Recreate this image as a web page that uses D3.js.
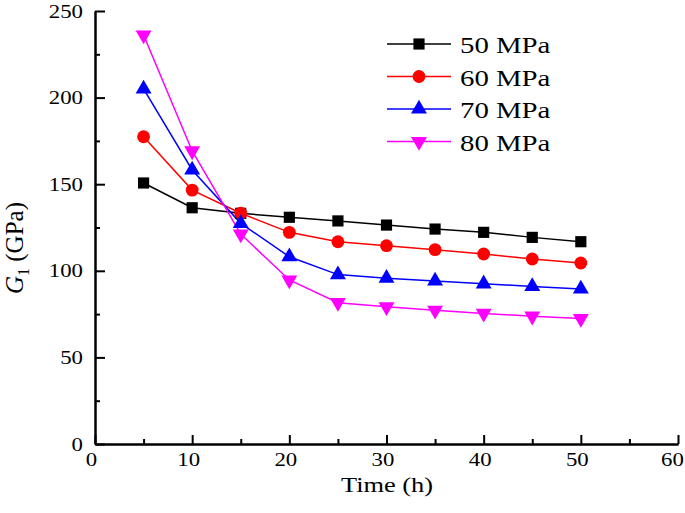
<!DOCTYPE html>
<html>
<head>
<meta charset="utf-8">
<script src="https://cdn.jsdelivr.net/npm/d3@7"></script>
<style>
  body { margin: 0; background: #fff; }
  svg text { font-family: "Liberation Serif", "Times New Roman", serif; fill: #000; }
</style>
</head>
<body>
<svg id="chart"></svg>
<script>
const width = 685;
const height = 513;

const times = [5, 10, 15, 20, 25, 30, 35, 40, 45, 50];
const seriesNames = ["50 MPa", "60 MPa", "70 MPa", "80 MPa"];
const g50 = [150.7, 136.4, 133.2, 130.9, 128.8, 126.4, 124.1, 122.2, 119.3, 116.8];
const g60 = [177.4, 146.6, 133.2, 122.2, 116.8, 114.5, 112.2, 109.7, 106.8, 104.5];
const g70 = [205.0, 158.2, 127.4, 108.1, 97.8, 95.7, 94.1, 92.5, 91.0, 89.5];
const g80 = [236.1, 169.2, 121.2, 94.7, 81.6, 79.2, 77.2, 75.4, 73.8, 72.4];
const xTicks = [0, 10, 20, 30, 40, 50, 60];
const yTicks = [0, 50, 100, 150, 200, 250];

const colors = ["#000000", "#ff0000", "#0000ff", "#ff00ff"];
const shapes = ["square", "circle", "triangle", "triangleDown"];
const allSeries = [g50, g60, g70, g80];

// the reference glyphs are a bit wider than plain Times
const stretch = 1.2;
const serif = "Liberation Serif, Times New Roman, serif";

let svg = d3.select('#chart')
    .attr("width", width)
    .attr("height", height);

let xScale = d3.scaleLinear().domain([0, 60]).range([95, 678]);
let yScale = d3.scaleLinear().domain([0, 250]).range([444, 11]);

// axes: major ticks inward, minor ticks in between
let xAxis = d3.axisBottom(xScale).tickValues(xTicks).tickSizeInner(-9).tickSizeOuter(0);
let xMinor = d3.axisBottom(xScale).tickValues(d3.range(5, 60, 10)).tickSizeInner(-5).tickSizeOuter(0).tickFormat("");
let yAxis = d3.axisLeft(yScale).tickValues(yTicks).tickSizeInner(-10).tickSizeOuter(0);
let yMinor = d3.axisLeft(yScale).tickValues(d3.range(25, 250, 50)).tickSizeInner(-5).tickSizeOuter(0).tickFormat("");

function styleAxis(g) {
    g.attr("font-family", serif);
    g.select(".domain").attr("stroke", "#000").attr("stroke-width", 2);
    g.selectAll(".tick line").attr("stroke", "#000").attr("stroke-width", 2);
    g.selectAll(".tick text").attr("font-size", 19).attr("font-family", serif);
}

svg.append("g").attr("transform", "translate(0,444)").call(xMinor).call(styleAxis);
let gx = svg.append("g").attr("transform", "translate(0,444)").call(xAxis).call(styleAxis);
gx.selectAll(".tick text")
    .attr("y", 0).attr("dy", 0)
    .attr("transform", d => "translate(" + (d === 60 ? -6 : -4) + ",22) scale(" + stretch + ",1)");

svg.append("g").attr("transform", "translate(95,0)").call(yMinor).call(styleAxis);
let gy = svg.append("g").attr("transform", "translate(95,0)").call(yAxis).call(styleAxis);
gy.selectAll(".tick text")
    .attr("x", 0)
    .attr("transform", "translate(-12,0) scale(" + stretch + ",1)");

// labels
svg.append("text")
    .attr("text-anchor", "middle")
    .attr("font-family", serif)
    .attr("font-size", 22)
    .attr("transform", "translate(387,492) scale(" + stretch + ",1)")
    .text("Time (h)");

let yLabel = svg.append("text")
    .attr("text-anchor", "middle")
    .attr("font-family", serif)
    .attr("font-size", 25)
    .attr("transform", "translate(23,248) rotate(-90)");
yLabel.append("tspan").style("font-style", "italic").text("G");
yLabel.append("tspan").attr("dy", 6).attr("font-size", 16).text("1");
yLabel.append("tspan").attr("dy", -6).text(" (GPa)");

const symbolTypes = {
    square: { type: d3.symbolSquare, size: 125 },
    circle: { type: d3.symbolCircle, size: 130 },
    triangle: { type: d3.symbolTriangle, size: 110 },
    triangleDown: { type: d3.symbolTriangle, size: 110 }
};

function marker(g, shape, color) {
    let s = symbolTypes[shape];
    return g.append("path")
        .attr("d", d3.symbol().type(s.type).size(s.size)())
        .attr("fill", color)
        .attr("transform", shape === "triangleDown" ? "rotate(180)" : null);
}

let line = d3.line()
    .x((d, i) => xScale(times[i]))
    .y(d => yScale(d));

allSeries.forEach((vals, k) => {
    svg.append("path")
        .datum(vals)
        .attr("fill", "none")
        .attr("stroke", colors[k])
        .attr("stroke-width", 1.5)
        .attr("d", line);
});

allSeries.forEach((vals, k) => {
    svg.append("g").selectAll("g")
        .data(vals)
        .join("g")
        .attr("transform", (d, i) => "translate(" + xScale(times[i]) + "," + yScale(d) + ")")
        .each(function () { marker(d3.select(this), shapes[k], colors[k]); });
});

// legend
let legend = svg.append("g");
seriesNames.forEach((name, k) => {
    let y = 44 + k * 32.5;
    legend.append("line")
        .attr("x1", 387).attr("x2", 451)
        .attr("y1", y).attr("y2", y)
        .attr("stroke", colors[k]).attr("stroke-width", 1.5);
    let m = legend.append("g").attr("transform", "translate(419," + y + ")");
    marker(m, shapes[k], colors[k]);
    legend.append("text")
        .attr("font-family", serif)
        .attr("font-size", 24)
        .attr("transform", "translate(460," + (y + 9) + ") scale(" + stretch + ",1)")
        .text(name);
});
</script>
</body>
</html>
